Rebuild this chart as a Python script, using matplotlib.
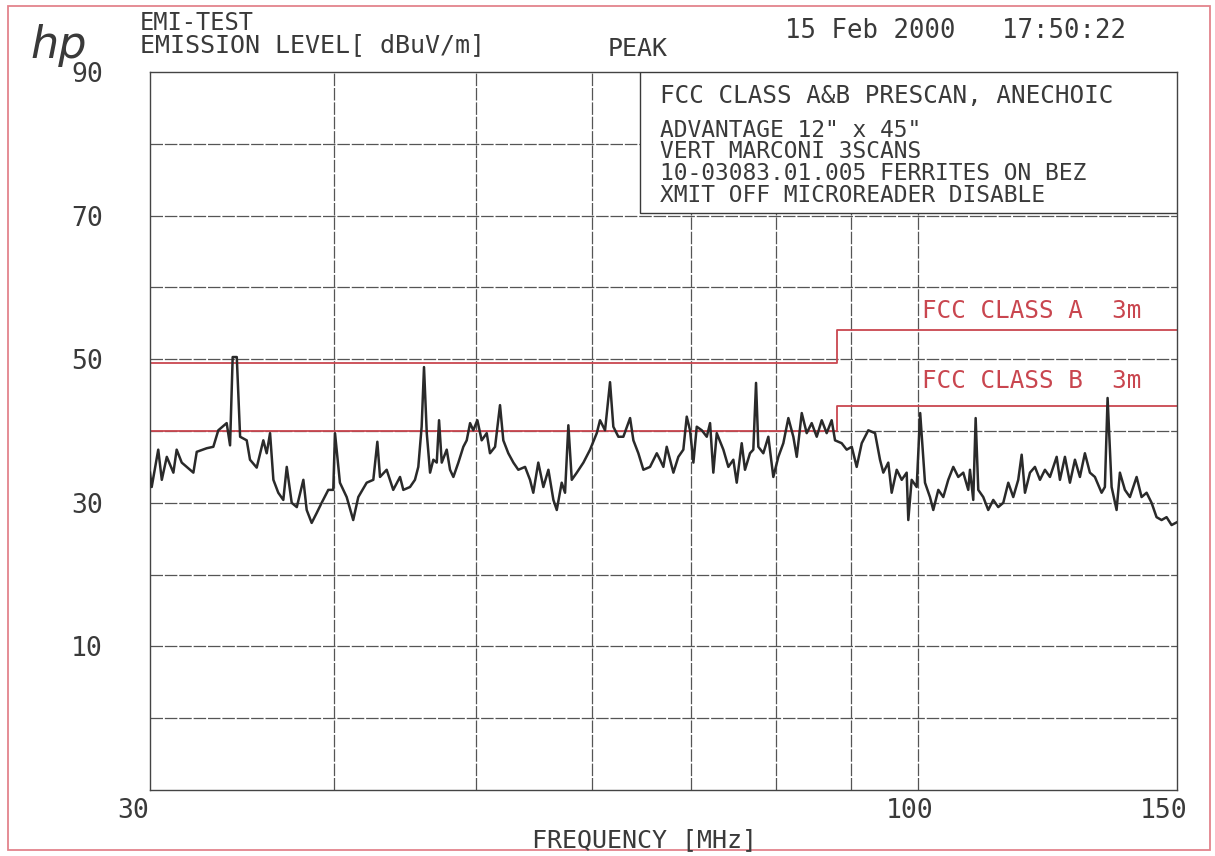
import matplotlib
matplotlib.use("Agg")
import matplotlib.pyplot as plt
import matplotlib.transforms as mtransforms
from matplotlib.patches import Rectangle
from matplotlib.ticker import NullLocator

# ---- scan data (MHz, dBuV/m) ----
freq = [30.00, 30.08, 30.39, 30.56, 30.80, 31.12, 31.28, 31.53, 31.78, 32.11,
        32.28, 32.79, 33.13, 33.39, 33.83, 34.01, 34.15, 34.37, 34.55, 34.91,
        35.09, 35.46, 35.83, 36.02, 36.21, 36.40, 36.68, 36.97, 37.17, 37.46,
        37.76, 38.15, 38.35, 38.65, 38.96, 39.26, 39.67, 39.98, 40.09, 40.40,
        40.83, 41.25, 41.58, 42.13, 42.57, 42.84, 43.02, 43.47, 43.92, 44.39,
        44.62, 45.09, 45.44, 45.68, 45.92, 46.09, 46.29, 46.53, 46.77, 47.02,
        47.19, 47.39, 47.76, 48.01, 48.26, 48.64, 49.02, 49.28, 49.54, 49.79,
        50.11, 50.45, 50.85, 51.11, 51.52, 51.92, 52.19, 52.60, 53.02, 53.43,
        54.00, 54.42, 54.70, 55.13, 55.57, 56.01, 56.45, 56.75, 57.19, 57.49,
        57.79, 58.10, 58.56, 59.17, 59.79, 60.42, 60.73, 61.21, 61.69, 62.01,
        62.50, 62.99, 63.66, 63.99, 64.49, 65.00, 65.68, 66.38, 66.72, 67.07,
        67.42, 68.13, 68.66, 69.20, 69.57, 69.93, 70.30, 70.67, 71.23, 71.79,
        72.16, 72.53, 72.92, 73.68, 74.26, 74.84, 75.24, 75.83, 76.22, 76.82,
        77.22, 77.55, 77.83, 78.44, 79.06, 79.68, 80.31, 80.94, 81.58, 82.22,
        82.66, 83.31, 83.96, 84.62, 85.29, 85.96, 86.63, 87.31, 87.77, 88.69,
        89.39, 90.10, 90.80, 91.52, 92.47, 93.45, 94.18, 94.67, 95.41, 95.92,
        96.68, 97.44, 98.20, 98.45, 98.97, 99.75, 100.30, 101.06, 101.85, 102.38,
        103.19, 104.00, 104.81, 105.64, 106.47, 107.31, 108.15, 108.44, 109.00, 109.41,
        109.86, 110.72, 111.59, 112.47, 113.35, 114.25, 115.15, 116.05, 116.96, 117.59,
        118.20, 119.13, 120.06, 121.01, 121.96, 122.92, 124.22, 124.86, 125.84, 126.83,
        127.83, 128.83, 129.84, 130.86, 131.89, 133.28, 133.97, 134.54, 135.39, 136.45,
        137.16, 138.24, 139.33, 140.80, 141.90, 143.02, 144.14, 145.27, 146.42, 147.57,
        148.73, 150.00]
level = [34.2, 32.2, 37.4, 33.2, 36.4, 34.2, 37.4, 35.6, 35.0, 34.2,
         37.1, 37.6, 37.8, 40.1, 41.1, 38.0, 50.3, 50.3, 39.2, 38.7,
         36.0, 34.9, 38.7, 36.9, 39.7, 33.2, 31.4, 30.4, 35.0, 30.0,
         29.4, 33.2, 29.0, 27.2, 28.6, 30.0, 31.8, 31.8, 39.7, 32.8,
         30.8, 27.6, 30.8, 32.8, 33.2, 38.5, 33.6, 34.6, 31.8, 33.6,
         31.8, 32.2, 33.2, 35.0, 40.6, 48.9, 39.7, 34.2, 36.0, 35.6,
         41.5, 35.6, 37.4, 34.6, 33.6, 35.6, 37.8, 38.7, 41.1, 40.1,
         41.5, 38.7, 39.7, 36.9, 37.8, 43.6, 38.7, 36.9, 35.6, 34.6,
         35.0, 33.2, 31.4, 35.6, 32.2, 34.6, 30.4, 29.0, 32.8, 31.4,
         40.8, 33.2, 34.2, 35.6, 37.4, 39.7, 41.5, 40.1, 46.8, 40.6,
         39.2, 39.2, 41.8, 38.7, 36.9, 34.6, 35.0, 36.9, 36.0, 35.0,
         37.8, 34.2, 36.4, 37.4, 42.0, 40.1, 35.6, 40.6, 40.1, 39.2,
         41.1, 34.2, 39.7, 37.4, 35.0, 36.0, 32.8, 38.3, 34.6, 36.9,
         37.4, 46.7, 37.8, 36.9, 39.2, 33.6, 36.4, 38.3, 41.8, 39.2,
         36.4, 42.5, 39.7, 41.1, 39.2, 41.5, 39.7, 41.5, 38.7, 38.3,
         37.4, 37.8, 35.0, 38.3, 40.1, 39.7, 36.0, 34.2, 35.6, 31.4,
         34.6, 33.2, 34.2, 27.6, 33.2, 32.2, 42.5, 32.8, 30.8, 29.0,
         31.8, 30.8, 33.2, 35.0, 33.6, 34.2, 31.8, 34.6, 30.4, 41.8,
         31.8, 30.8, 29.0, 30.4, 29.4, 30.0, 32.8, 30.8, 33.2, 36.7,
         31.4, 34.2, 35.0, 33.2, 34.6, 33.6, 36.4, 33.2, 36.4, 32.8,
         36.0, 33.6, 36.9, 34.2, 33.6, 31.4, 32.2, 44.6, 32.2, 29.0,
         34.2, 31.8, 30.8, 33.6, 30.8, 31.4, 30.0, 28.0, 27.6, 28.0,
         26.9, 27.3]

# FCC limits at 3 m
limit_freq = [30, 88, 150]
class_a = [49.5, 54.0, 54.0]
class_b = [40.0, 43.5, 43.5]

grid_freqs = [40, 50, 60, 70, 80, 90, 100]
grid_levels = [0, 10, 20, 30, 40, 50, 60, 70, 80]
x_ticks = [30, 100, 150]
y_ticks = [90, 70, 50, 30, 10]

box_lines = ['ADVANTAGE 12" x 45"',
             'VERT MARCONI 3SCANS',
             '10-03083.01.005 FERRITES ON BEZ',
             'XMIT OFF MICROREADER DISABLE']

W, H = 1215, 856
MONO = 'DejaVu Sans Mono'
INK = '#3a3a3a'
RED = '#c9464f'


def fpos(x, y):
    return x / W, 1 - y / H


fig = plt.figure(figsize=(W / 100, H / 100), dpi=100)
fig.patch.set_facecolor('white')
ax = fig.add_axes([150 / W, 1 - 790 / H, 1027 / W, 718 / H])
ax.set_xscale('log')
ax.set_xlim(30, 150)
ax.set_ylim(-10, 90)

for f in grid_freqs:
    ax.axvline(f, color='#555555', lw=0.9, ls=(0, (10, 1.5)), zorder=1)
for lv in grid_levels:
    ax.axhline(lv, color='#555555', lw=0.9, ls=(0, (10, 1.5)), zorder=1)

ax.plot(limit_freq, class_a, drawstyle='steps-post', color=RED, lw=1.3, zorder=2)
ax.plot(limit_freq, class_b, drawstyle='steps-post', color=RED, lw=1.3, zorder=2)
ax.plot(freq, level, color='#2a2a2a', lw=1.8, zorder=4)

# comment box in the upper right corner
ax.add_patch(Rectangle((0.477, 0.8036), 0.523, 0.1964, transform=ax.transAxes,
                       facecolor='white', edgecolor=INK, lw=1.0, zorder=3))

ax.text(0.752, 0.667, 'FCC CLASS A  3m', transform=ax.transAxes, color=RED,
        family=MONO, fontsize=17.5, va='center', ha='left', zorder=5)
ax.text(0.752, 0.570, 'FCC CLASS B  3m', transform=ax.transAxes, color=RED,
        family=MONO, fontsize=17.5, va='center', ha='left', zorder=5)

for side in ax.spines.values():
    side.set_color('#444444')
    side.set_linewidth(1.0)

ax.xaxis.set_minor_locator(NullLocator())
ax.set_xticks(x_ticks)
ax.set_xticklabels([str(t) for t in x_ticks])
ax.set_yticks(y_ticks)
ax.set_yticklabels([str(t) for t in y_ticks])
ax.tick_params(length=0, labelcolor=INK, labelsize=19)
ax.tick_params(axis='y', pad=34)
ax.tick_params(axis='x', pad=6)
for lab in ax.get_xticklabels() + ax.get_yticklabels():
    lab.set_family(MONO)
# x labels sit just left of their grid position
shifts = [-17, -9, -13]
for lab, dx in zip(ax.get_xticklabels(), shifts):
    off = mtransforms.ScaledTranslation(dx / 100, 0, fig.dpi_scale_trans)
    lab.set_transform(lab.get_transform() + off)

fig.text(*fpos(645, 847), 'FREQUENCY [MHz]', family=MONO, fontsize=18,
         color=INK, ha='center', va='baseline')

# header
fig.text(*fpos(30, 58), 'hp', family='DejaVu Sans', style='italic', fontsize=32,
         color=INK, ha='left', va='baseline')
fig.text(*fpos(140, 30), 'EMI-TEST', family=MONO, fontsize=17, color=INK,
         ha='left', va='baseline')
fig.text(*fpos(140, 52), 'EMISSION LEVEL[ dBuV/m]', family=MONO, fontsize=18,
         color=INK, ha='left', va='baseline')
fig.text(*fpos(608, 56), 'PEAK', family=MONO, fontsize=18, color=INK,
         ha='left', va='baseline')
fig.text(*fpos(785, 38), '15 Feb 2000   17:50:22', family=MONO, fontsize=18.5,
         color=INK, ha='left', va='baseline')

fig.text(*fpos(660, 103), 'FCC CLASS A&B PRESCAN, ANECHOIC', family=MONO,
         fontsize=17.5, color=INK, ha='left', va='baseline')
for i, line in enumerate(box_lines):
    fig.text(*fpos(660, 137 + 21.5 * i), line, family=MONO, fontsize=16.5,
             color=INK, ha='left', va='baseline')

# page border
fig.patches.append(Rectangle((8 / W, 6 / H), 1202 / W, 844 / H,
                             transform=fig.transFigure, fill=False,
                             edgecolor='#e3848c', lw=1.3))

fig.savefig('out.png', dpi=100)
